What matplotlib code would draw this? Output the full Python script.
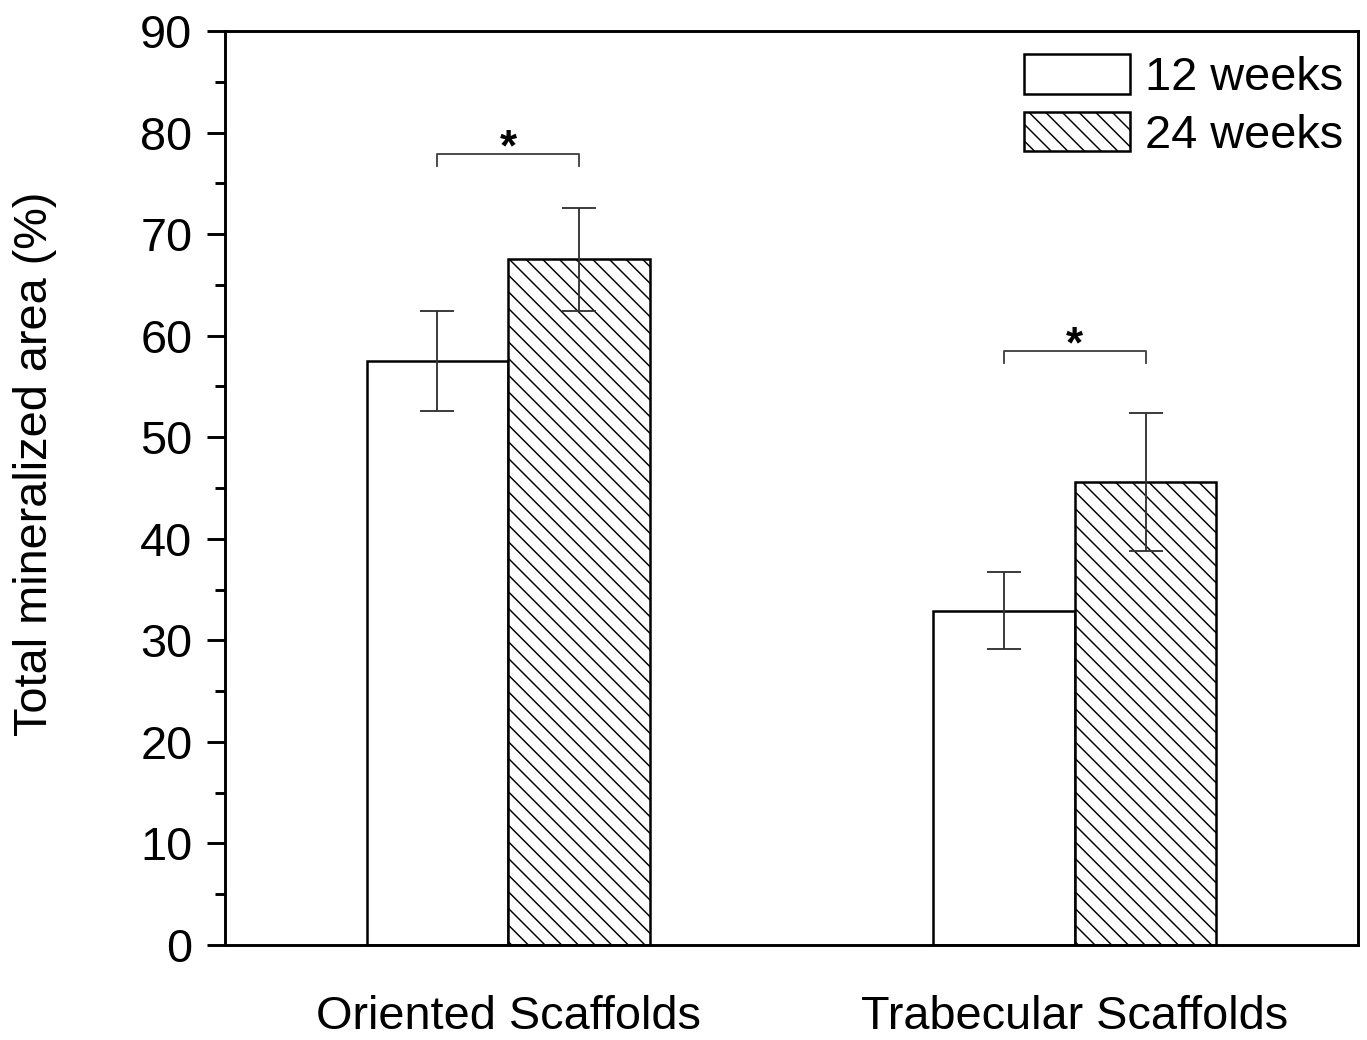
import matplotlib
matplotlib.use("Agg")
import matplotlib.pyplot as plt
from matplotlib.ticker import MultipleLocator
import numpy as np

plt.rcParams['font.family'] = ['Liberation Sans', 'DejaVu Sans']
plt.rcParams['hatch.linewidth'] = 0.7

groups = ['Oriented Scaffolds', 'Trabecular Scaffolds']
series = ['12 weeks', '24 weeks']
mean_12w = [57.5, 32.9]
err_12w = [4.9, 3.8]
mean_24w = [67.5, 45.6]
err_24w = [5.1, 6.8]
# significance brackets: top of bracket per group
sig_y = [77.9, 58.5]

fs = 22.5

fig = plt.figure(figsize=(1368 / 150, 1040 / 150))
ax = fig.add_axes([225 / 1368, 95 / 1040, 1133 / 1368, 914 / 1040])

x = np.arange(1, len(groups) + 1)
w = 0.25
ekw = dict(ecolor='#333333', elinewidth=0.9, capsize=8, capthick=0.9)
ax.bar(x - w / 2, mean_12w, w, yerr=err_12w, color='white', edgecolor='black',
       linewidth=1.2, label=series[0], error_kw=ekw)
ax.bar(x + w / 2, mean_24w, w, yerr=err_24w, color='white', edgecolor='black',
       linewidth=1.2, hatch='\\\\\\', label=series[1], error_kw=ekw)

for xi, yi in zip(x, sig_y):
    ax.plot([xi - w / 2, xi - w / 2, xi + w / 2, xi + w / 2],
            [yi - 1.2, yi, yi, yi - 1.2], color='#444444', lw=0.9)
    ax.text(xi, yi - 0.6, '*', ha='center', va='baseline', fontsize=21,
            fontweight='bold')

ax.set_xlim(0.5, 2.5)
ax.set_ylim(0, 90)
ax.set_xticks(x)
ax.set_xticklabels(groups, fontsize=fs)
ax.tick_params(axis='x', length=0, pad=24)
ax.yaxis.set_major_locator(MultipleLocator(10))
ax.yaxis.set_minor_locator(MultipleLocator(5))
ax.tick_params(axis='y', which='major', length=8.6, width=1.4, labelsize=fs, pad=7)
ax.tick_params(axis='y', which='minor', length=4.8, width=1.4)
for s in ax.spines.values():
    s.set_linewidth(1.4)

ax.set_ylabel('Total mineralized area (%)', fontsize=fs)
ax.yaxis.set_label_coords(-0.148, 0.527)

ax.legend(loc='upper right', frameon=False, fontsize=fs, handlelength=2.26,
          handleheight=0.92, handletextpad=0.32, labelspacing=0.25,
          borderaxespad=0.0, borderpad=0.42, bbox_to_anchor=(1.004, 0.996))

fig.savefig('out.png', dpi=150)
